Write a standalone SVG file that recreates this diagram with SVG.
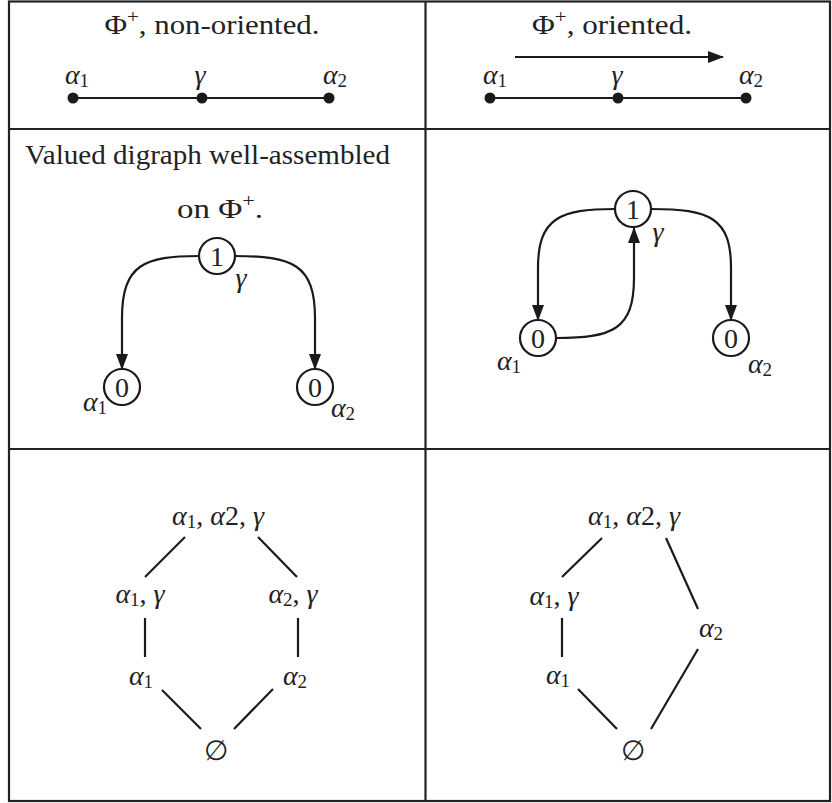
<svg xmlns="http://www.w3.org/2000/svg" width="832" height="803" viewBox="0 0 832 803">
<style>
text{font-family:"Liberation Serif","Times New Roman",serif;font-size:28px;fill:#222;text-anchor:middle}
.i{font-style:italic}
.s{font-size:19px}
.grid{fill:none;stroke:#222;stroke-width:2.2}
.e{fill:none;stroke:#1a1a1a;stroke-width:2.2}
.n circle{fill:#fff;stroke:#1a1a1a;stroke-width:2.2}
.dot{fill:#1a1a1a}
</style>
<defs>
<marker id="ah" markerUnits="userSpaceOnUse" markerWidth="16" markerHeight="12" refX="15" refY="6" orient="auto">
<path d="M0,0 L16,6 L0,12 z" fill="#1a1a1a"/>
</marker>
</defs>
<g id="grid">
<rect class="grid" x="9" y="1.5" width="821" height="799.5"/>
<line class="grid" x1="425.5" y1="1.5" x2="425.5" y2="801"/>
<line class="grid" x1="9" y1="129" x2="830" y2="129"/>
<line class="grid" x1="9" y1="449" x2="830" y2="449"/>
</g>
<g id="connectors">
<line class="e" x1="73" y1="98" x2="329" y2="98"/>
<line class="e" x1="490" y1="98" x2="746" y2="98"/>
<line class="e" x1="515" y1="57" x2="723" y2="57" marker-end="url(#ah)"/>
<path class="e" d="M199,256 C145,256 122,264 122,318 L122,369" marker-end="url(#ah)"/>
<path class="e" d="M235,256 C292,256 315,264 315,318 L315,369" marker-end="url(#ah)"/>
<path class="e" d="M615,209 C560,209 538,218 538,268 L538,320" marker-end="url(#ah)"/>
<path class="e" d="M651,209 C710,209 731,218 731,268 L731,320" marker-end="url(#ah)"/>
<path class="e" d="M556,338 C612,338 634,330 634,278 L634,228" marker-end="url(#ah)"/>
<line class="e" x1="185" y1="537" x2="145" y2="577"/>
<line class="e" x1="258" y1="537" x2="297" y2="577"/>
<line class="e" x1="145" y1="618" x2="145" y2="657"/>
<line class="e" x1="298" y1="618" x2="298" y2="657"/>
<line class="e" x1="162" y1="690" x2="201" y2="729"/>
<line class="e" x1="273" y1="689" x2="234" y2="729"/>
<line class="e" x1="602" y1="538" x2="562" y2="577"/>
<line class="e" x1="666" y1="538" x2="698" y2="609"/>
<line class="e" x1="562" y1="618" x2="562" y2="657"/>
<line class="e" x1="578" y1="689" x2="617" y2="729"/>
<line class="e" x1="698" y1="649" x2="651" y2="729"/>
</g>
<g id="cell1">
<text x="212" y="34" textLength="215" lengthAdjust="spacingAndGlyphs">Φ<tspan class="s" dy="-11">+</tspan><tspan dy="11">, non-oriented.</tspan></text>
<g id="n1a1"><circle class="dot" cx="73" cy="98" r="5.5"/><text x="77" y="84"><tspan class="i">α</tspan><tspan class="s" dy="3">1</tspan></text></g>
<g id="n1g"><circle class="dot" cx="202" cy="98" r="5.5"/><text class="i" x="200" y="84">γ</text></g>
<g id="n1a2"><circle class="dot" cx="329" cy="98" r="5.5"/><text x="335" y="84"><tspan class="i">α</tspan><tspan class="s" dy="3">2</tspan></text></g>
</g>
<g id="cell2">
<text x="612" y="34" textLength="160" lengthAdjust="spacingAndGlyphs">Φ<tspan class="s" dy="-11">+</tspan><tspan dy="11">, oriented.</tspan></text>
<g id="n2a1"><circle class="dot" cx="490" cy="98" r="5.5"/><text x="495" y="84"><tspan class="i">α</tspan><tspan class="s" dy="3">1</tspan></text></g>
<g id="n2g"><circle class="dot" cx="618" cy="98" r="5.5"/><text class="i" x="617" y="84">γ</text></g>
<g id="n2a2"><circle class="dot" cx="746" cy="98" r="5.5"/><text x="751" y="84"><tspan class="i">α</tspan><tspan class="s" dy="3">2</tspan></text></g>
</g>
<g id="cell3">
<text x="207.5" y="164" textLength="365" lengthAdjust="spacingAndGlyphs">Valued digraph well-assembled</text>
<text x="220" y="218" textLength="86" lengthAdjust="spacingAndGlyphs">on Φ<tspan class="s" dy="-11">+</tspan><tspan dy="11">.</tspan></text>
<g id="n3g" class="n"><circle cx="217" cy="256" r="18"/><text x="217" y="266">1</text><text class="i" x="241" y="287">γ</text></g>
<g id="n3a1" class="n"><circle cx="122" cy="387" r="18"/><text x="122" y="397">0</text><text x="95" y="411"><tspan class="i">α</tspan><tspan class="s" dy="3">1</tspan></text></g>
<g id="n3a2" class="n"><circle cx="315" cy="387" r="18"/><text x="315" y="397">0</text><text x="343" y="417"><tspan class="i">α</tspan><tspan class="s" dy="3">2</tspan></text></g>
</g>
<g id="cell4">
<g id="n4g" class="n"><circle cx="633" cy="209" r="18"/><text x="633" y="219">1</text><text class="i" x="658" y="241">γ</text></g>
<g id="n4a1" class="n"><circle cx="538" cy="338" r="18"/><text x="538" y="348">0</text><text x="509" y="370"><tspan class="i">α</tspan><tspan class="s" dy="3">1</tspan></text></g>
<g id="n4a2" class="n"><circle cx="731" cy="338" r="18"/><text x="731" y="348">0</text><text x="760" y="373"><tspan class="i">α</tspan><tspan class="s" dy="3">2</tspan></text></g>
</g>
<g id="cell5">
<g id="l5top"><text x="218" y="525"><tspan class="i">α</tspan><tspan class="s" dy="3">1</tspan><tspan dy="-3">, </tspan><tspan class="i">α</tspan>2, <tspan class="i">γ</tspan></text></g>
<g id="l5a1g"><text x="140" y="603"><tspan class="i">α</tspan><tspan class="s" dy="3">1</tspan><tspan dy="-3">, </tspan><tspan class="i">γ</tspan></text></g>
<g id="l5a2g"><text x="293" y="603"><tspan class="i">α</tspan><tspan class="s" dy="3">2</tspan><tspan dy="-3">, </tspan><tspan class="i">γ</tspan></text></g>
<g id="l5a1"><text x="141" y="685"><tspan class="i">α</tspan><tspan class="s" dy="3">1</tspan></text></g>
<g id="l5a2"><text x="295" y="685"><tspan class="i">α</tspan><tspan class="s" dy="3">2</tspan></text></g>
<g id="l5e"><text x="216" y="760">∅</text></g>
</g>
<g id="cell6">
<g id="l6top"><text x="634" y="525"><tspan class="i">α</tspan><tspan class="s" dy="3">1</tspan><tspan dy="-3">, </tspan><tspan class="i">α</tspan>2, <tspan class="i">γ</tspan></text></g>
<g id="l6a1g"><text x="554" y="605"><tspan class="i">α</tspan><tspan class="s" dy="3">1</tspan><tspan dy="-3">, </tspan><tspan class="i">γ</tspan></text></g>
<g id="l6a2"><text x="711" y="637"><tspan class="i">α</tspan><tspan class="s" dy="3">2</tspan></text></g>
<g id="l6a1"><text x="558" y="684"><tspan class="i">α</tspan><tspan class="s" dy="3">1</tspan></text></g>
<g id="l6e"><text x="633" y="760">∅</text></g>
</g>
</svg>
